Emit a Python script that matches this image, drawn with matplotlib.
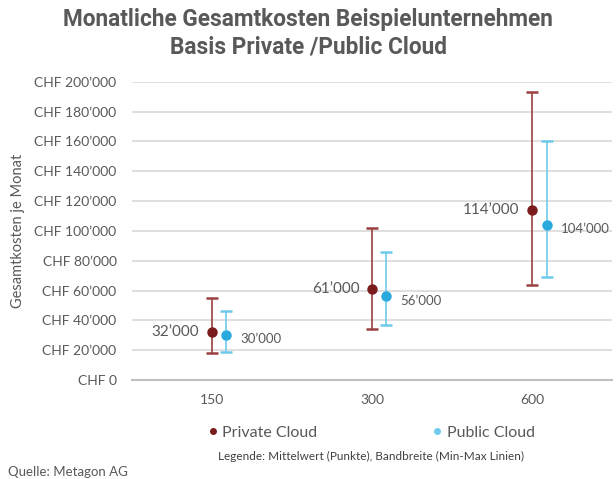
import matplotlib
matplotlib.use("Agg")
import matplotlib.pyplot as plt
from matplotlib.lines import Line2D
from matplotlib.ticker import FuncFormatter

# Daten (CHF pro Monat)
users = ["150", "300", "600"]
private_mean = [32000, 61000, 114000]
private_min = [18000, 34000, 64000]
private_max = [55000, 102000, 193000]
public_mean = [30000, 56000, 104000]
public_min = [19000, 37000, 69000]
public_max = [46000, 86000, 160000]

c_priv = "#7b1c1c"
c_pub = "#2aa9dd"
c_pub_line = "#6ecbec"
grey = "#595959"

plt.rcParams["font.family"] = ["Lato", "DejaVu Sans"]

fig = plt.figure(figsize=(6.16, 4.79), dpi=100)
ax = fig.add_axes([0.214, 0.2067, 0.78, 0.6227])

x = list(range(len(users)))
xp = [i + 0.09 for i in x]

def err(mean, lo, hi):
    return [[m - l for m, l in zip(mean, lo)], [h - m for m, h in zip(mean, hi)]]

ax.errorbar(x, private_mean, yerr=err(private_mean, private_min, private_max),
            fmt="o", color=c_priv, ecolor="#9a4040", elinewidth=1.2, capsize=4.5,
            capthick=1.8, markersize=6.5, zorder=3)
ax.errorbar(xp, public_mean, yerr=err(public_mean, public_min, public_max),
            fmt="o", color=c_pub, ecolor=c_pub_line, elinewidth=1.2, capsize=4.5,
            capthick=1.8, markersize=6.5, zorder=3)

def fmt_k(v):
    return f"{v:,.0f}".replace(",", "\u2019")

for i, v in zip(x, private_mean):
    ax.annotate(fmt_k(v), (i, v), xytext=(-9, 0), textcoords="offset points",
                ha="right", va="center", fontsize=11, color=grey)
for i, v in zip(xp, public_mean):
    ax.annotate(fmt_k(v), (i, v), xytext=(10, -3), textcoords="offset points",
                ha="left", va="center", fontsize=9.5, color=grey)

ax.set_xlim(-0.5, 2.5)
ax.set_ylim(0, 200000)
ax.set_yticks(range(0, 200001, 20000))
ax.yaxis.set_major_formatter(FuncFormatter(lambda v, p: "CHF " + fmt_k(v)))
ax.set_xticks(x)
ax.set_xticklabels(users)
ax.tick_params(axis="both", length=0, labelsize=10, colors=grey)
ax.tick_params(axis="y", pad=11)
ax.tick_params(axis="x", pad=10)
ax.grid(axis="y", color="#d9d9d9", linewidth=1.2)
ax.set_axisbelow(True)
for s in ["top", "right", "left"]:
    ax.spines[s].set_visible(False)
ax.spines["bottom"].set_color("#bfbfbf")
ax.spines["bottom"].set_linewidth(1.5)

ax.set_ylabel("Gesamtkosten je Monat", fontsize=10.5, color=grey)
ax.yaxis.set_label_coords(-0.222, 0.5)

fig.suptitle("Monatliche Gesamtkosten Beispielunternehmen\nBasis Private /Public Cloud",
             x=0.5, y=0.983, fontsize=16.3, fontweight="bold", color=grey,
             family=["Roboto", "DejaVu Sans"], linespacing=1.25)

handles = [Line2D([], [], marker="o", linestyle="", color=c_priv, markersize=4),
           Line2D([], [], marker="o", linestyle="", color=c_pub_line, markersize=4)]
fig.legend(handles, ["Private Cloud", "Public Cloud"], loc="center",
           bbox_to_anchor=(0.6, 0.097), ncol=2, frameon=False, fontsize=11.5,
           labelcolor=grey, columnspacing=7.0, handletextpad=0.1, handlelength=1)
fig.text(0.602, 0.047, "Legende: Mittelwert (Punkte), Bandbreite (Min-Max Linien)",
         ha="center", va="center", fontsize=8.5, color="#404040")
fig.text(0.013, 0.015, "Quelle: Metagon AG", ha="left", va="center",
         fontsize=9.5, color=grey)

fig.savefig("out.png", dpi=100)
